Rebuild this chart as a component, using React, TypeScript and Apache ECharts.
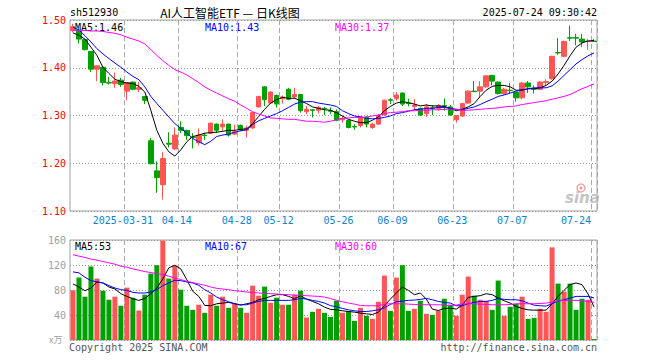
import React, { useEffect, useRef } from 'react';
import * as echarts from 'echarts';

const dates = [
  '2025-03-18','2025-03-19','2025-03-20','2025-03-21','2025-03-24','2025-03-25','2025-03-26','2025-03-27','2025-03-28','2025-03-31',
  '2025-04-01','2025-04-02','2025-04-03','2025-04-07','2025-04-08','2025-04-09','2025-04-10','2025-04-11','2025-04-14','2025-04-15',
  '2025-04-16','2025-04-17','2025-04-18','2025-04-21','2025-04-22','2025-04-23','2025-04-24','2025-04-25','2025-04-28','2025-04-29',
  '2025-04-30','2025-05-06','2025-05-07','2025-05-08','2025-05-09','2025-05-12','2025-05-13','2025-05-14','2025-05-15','2025-05-16',
  '2025-05-19','2025-05-20','2025-05-21','2025-05-22','2025-05-23','2025-05-26','2025-05-27','2025-05-28','2025-05-29','2025-05-30',
  '2025-06-03','2025-06-04','2025-06-05','2025-06-06','2025-06-09','2025-06-10','2025-06-11','2025-06-12','2025-06-13','2025-06-16',
  '2025-06-17','2025-06-18','2025-06-19','2025-06-20','2025-06-23','2025-06-24','2025-06-25','2025-06-26','2025-06-27','2025-06-30',
  '2025-07-01','2025-07-02','2025-07-03','2025-07-04','2025-07-07','2025-07-08','2025-07-09','2025-07-10','2025-07-11','2025-07-14',
  '2025-07-15','2025-07-16','2025-07-17','2025-07-18','2025-07-21','2025-07-22','2025-07-23','2025-07-24',
];

const labelDates = ['2025-03-31','2025-04-14','2025-04-28','2025-05-12','2025-05-26','2025-06-09','2025-06-23','2025-07-07','2025-07-24'];

const opens = [
  1.478, 1.479, 1.459, 1.434, 1.397, 1.401, 1.369, 1.367, 1.374, 1.351,
  1.370, 1.355, 1.340, 1.247, 1.184, 1.155, 1.242, 1.230, 1.275, 1.269,
  1.255, 1.243, 1.259, 1.263, 1.282, 1.276, 1.282, 1.261, 1.279, 1.269,
  1.274, 1.318, 1.360, 1.326, 1.342, 1.335, 1.355, 1.339, 1.344, 1.308,
  1.312, 1.311, 1.315, 1.310, 1.308, 1.291, 1.290, 1.277, 1.279, 1.296,
  1.275, 1.282, 1.301, 1.333, 1.335, 1.347, 1.326, 1.319, 1.315, 1.304,
  1.316, 1.315, 1.321, 1.318, 1.291, 1.299, 1.326, 1.351, 1.351, 1.360,
  1.384, 1.370, 1.346, 1.353, 1.349, 1.337, 1.368, 1.356, 1.355, 1.369,
  1.377, 1.432, 1.424, 1.463, 1.463, 1.460, 1.455, 1.456,
];
const closes = [
  1.486, 1.460, 1.438, 1.397, 1.404, 1.369, 1.368, 1.372, 1.365, 1.369,
  1.355, 1.358, 1.332, 1.199, 1.170, 1.210, 1.240, 1.259, 1.269, 1.258,
  1.254, 1.259, 1.258, 1.284, 1.269, 1.282, 1.259, 1.266, 1.270, 1.274,
  1.306, 1.340, 1.333, 1.349, 1.324, 1.339, 1.334, 1.344, 1.310, 1.313,
  1.311, 1.317, 1.314, 1.309, 1.290, 1.294, 1.275, 1.276, 1.297, 1.282,
  1.282, 1.299, 1.332, 1.332, 1.343, 1.324, 1.325, 1.322, 1.301, 1.318,
  1.315, 1.321, 1.320, 1.301, 1.300, 1.325, 1.351, 1.350, 1.360, 1.383,
  1.372, 1.346, 1.355, 1.352, 1.337, 1.368, 1.360, 1.355, 1.370, 1.371,
  1.424, 1.431, 1.455, 1.462, 1.462, 1.454, 1.456, 1.455,
];
const lows = [
  1.474, 1.451, 1.436, 1.391, 1.372, 1.363, 1.365, 1.358, 1.360, 1.332,
  1.353, 1.349, 1.324, 1.198, 1.138, 1.124, 1.233, 1.228, 1.263, 1.249,
  1.231, 1.237, 1.249, 1.261, 1.263, 1.268, 1.256, 1.259, 1.267, 1.254,
  1.272, 1.317, 1.320, 1.324, 1.317, 1.325, 1.332, 1.335, 1.306, 1.303,
  1.296, 1.304, 1.301, 1.303, 1.288, 1.285, 1.273, 1.270, 1.275, 1.275,
  1.272, 1.280, 1.299, 1.324, 1.331, 1.320, 1.319, 1.311, 1.299, 1.297,
  1.301, 1.310, 1.310, 1.299, 1.285, 1.297, 1.325, 1.349, 1.338, 1.358,
  1.363, 1.344, 1.344, 1.346, 1.329, 1.334, 1.347, 1.346, 1.353, 1.363,
  1.375, 1.427, 1.422, 1.456, 1.447, 1.444, 1.438, 1.454,
];
const highs = [
  1.492, 1.483, 1.460, 1.435, 1.405, 1.401, 1.381, 1.390, 1.379, 1.370,
  1.371, 1.370, 1.341, 1.253, 1.204, 1.223, 1.265, 1.275, 1.288, 1.270,
  1.263, 1.273, 1.263, 1.285, 1.283, 1.292, 1.283, 1.281, 1.281, 1.279,
  1.308, 1.341, 1.361, 1.351, 1.344, 1.342, 1.358, 1.358, 1.345, 1.320,
  1.313, 1.320, 1.318, 1.317, 1.313, 1.299, 1.291, 1.282, 1.299, 1.299,
  1.285, 1.303, 1.333, 1.336, 1.349, 1.348, 1.335, 1.334, 1.317, 1.324,
  1.322, 1.324, 1.336, 1.322, 1.301, 1.326, 1.353, 1.372, 1.372, 1.384,
  1.385, 1.371, 1.358, 1.368, 1.350, 1.370, 1.372, 1.363, 1.372, 1.376,
  1.425, 1.462, 1.457, 1.488, 1.471, 1.471, 1.460, 1.460,
];

const ma5 = [
  1.473, 1.468, 1.460, 1.443, 1.426, 1.401, 1.388, 1.376, 1.371, 1.368,
  1.367, 1.361, 1.349, 1.311, 1.269, 1.242, 1.224, 1.215, 1.228, 1.245,
  1.256, 1.259, 1.263, 1.264, 1.265, 1.267, 1.269, 1.269, 1.271, 1.272,
  1.283, 1.298, 1.313, 1.326, 1.333, 1.338, 1.336, 1.336, 1.331, 1.325,
  1.318, 1.315, 1.312, 1.311, 1.306, 1.299, 1.292, 1.288, 1.285, 1.285,
  1.290, 1.297, 1.310, 1.319, 1.326, 1.329, 1.327, 1.324, 1.320, 1.322,
  1.320, 1.320, 1.319, 1.315, 1.310, 1.313, 1.318, 1.325, 1.340, 1.353,
  1.361, 1.363, 1.363, 1.360, 1.353, 1.353, 1.356, 1.356, 1.358, 1.363,
  1.372, 1.387, 1.405, 1.425, 1.443, 1.452, 1.456, 1.457,
];
const ma10 = [
  1.485, 1.479, 1.467, 1.454, 1.440, 1.429, 1.419, 1.410, 1.401, 1.391,
  1.382, 1.375, 1.360, 1.340, 1.325, 1.311, 1.297, 1.283, 1.273, 1.263,
  1.252, 1.245, 1.239, 1.246, 1.256, 1.259, 1.261, 1.265, 1.268, 1.270,
  1.281, 1.289, 1.294, 1.299, 1.304, 1.310, 1.317, 1.324, 1.328, 1.329,
  1.329, 1.326, 1.324, 1.322, 1.319, 1.310, 1.304, 1.299, 1.297, 1.294,
  1.293, 1.294, 1.296, 1.299, 1.304, 1.306, 1.309, 1.312, 1.313, 1.315,
  1.315, 1.317, 1.317, 1.315, 1.313, 1.312, 1.315, 1.318, 1.323, 1.329,
  1.334, 1.340, 1.343, 1.347, 1.351, 1.354, 1.356, 1.358, 1.358, 1.358,
  1.362, 1.372, 1.384, 1.396, 1.408, 1.417, 1.425, 1.431,
];
const ma30 = [
  1.478, 1.478, 1.478, 1.477, 1.477, 1.476, 1.474, 1.472, 1.469, 1.464,
  1.460, 1.456, 1.450, 1.438, 1.426, 1.415, 1.405, 1.396, 1.391, 1.385,
  1.377, 1.369, 1.360, 1.353, 1.347, 1.341, 1.335, 1.330, 1.322, 1.315,
  1.308, 1.303, 1.299, 1.295, 1.294, 1.293, 1.292, 1.292, 1.290, 1.288,
  1.288, 1.287, 1.286, 1.288, 1.291, 1.294, 1.295, 1.296, 1.296, 1.297,
  1.299, 1.301, 1.304, 1.306, 1.307, 1.308, 1.310, 1.310, 1.311, 1.311,
  1.312, 1.312, 1.313, 1.313, 1.313, 1.311, 1.311, 1.312, 1.313, 1.314,
  1.315, 1.316, 1.318, 1.319, 1.320, 1.323, 1.325, 1.327, 1.329, 1.331,
  1.334, 1.337, 1.340, 1.344, 1.350, 1.356, 1.361, 1.366,
];

const volumes = [
  79.5, 99.9, 69.3, 117.6, 98.3, 78.9, 64.4, 69.3, 54.8, 83.8,
  67.6, 47.2, 72.5, 106.3, 119.7, 159, 98.3, 119.2, 80.5, 54.8,
  48.3, 56.4, 43.5, 72.5, 54.8, 69.3, 51.5, 58, 51.5, 43.5,
  87, 70.9, 85.4, 59.6, 67.6, 56.4, 56.4, 72.5, 78.9, 36,
  45.1, 49.9, 43.5, 37, 62.8, 43.5, 46.2, 30.6, 51.5, 38.7,
  33.8, 61.2, 103.1, 46.7, 99.9, 119.7, 46.7, 49.9, 62.8, 41.9,
  40.3, 46.7, 66, 56.4, 38.7, 72.5, 101.5, 70.9, 64.4, 62.8,
  48.3, 95.1, 38.7, 53.2, 58, 69.3, 33.8, 35.4, 49.9, 45.1,
  148.2, 90.2, 77.3, 90.2, 48.3, 66, 64.4, 1.6,
];
const volMa5 = [
  89.7, 84.8, 78.9, 83.2, 92.9, 91.3, 84.8, 81.6, 74.1, 69.8,
  66.0, 63.4, 66.6, 74.1, 83.2, 97.7, 115.4, 119.7, 113.8, 96.6,
  77.9, 69.8, 55.3, 54.8, 58.0, 59.1, 60.1, 58.0, 55.8, 58.0,
  60.1, 64.4, 66.6, 69.8, 72.5, 72.5, 69.8, 66.0, 70.9, 65.5,
  61.7, 58.0, 52.6, 49.0, 48.3, 46.7, 45.6, 44.6, 43.0, 41.9,
  40.8, 44.6, 54.8, 65.5, 75.2, 84.8, 79.5, 72.5, 75.2, 65.5,
  49.4, 47.2, 50.5, 51.0, 49.4, 55.8, 68.2, 69.8, 70.9, 74.1,
  72.5, 67.1, 62.8, 59.1, 53.7, 50.5, 48.3, 47.8, 47.8, 47.8,
  58.0, 69.8, 79.5, 88.6, 91.3, 88.6, 73.6, 53.0,
];
const volMa10 = [
  109, 107.4, 100.4, 95, 92.9, 91.3, 87, 83.2, 80.5, 79.5,
  76.2, 75.2, 75.2, 76.8, 80.5, 87, 91.3, 95.6, 95, 92.9,
  91.3, 87.5, 80.5, 75.2, 68.7, 64.4, 61.2, 58, 56.4, 56.4,
  59.1, 61.7, 63.4, 63.4, 63.4, 63.4, 63.4, 64.4, 66.6, 65.5,
  63.4, 61.7, 59.1, 55.0, 53.2, 50.5, 48.3, 46.7, 45.6, 45.6,
  46.7, 48.3, 51.5, 56.9, 61.2, 62.3, 63.4, 63.9, 65, 66.6,
  64.4, 61.7, 60.1, 59.1, 54.8, 54.8, 58, 60.1, 61.7, 61.7,
  63.4, 66.6, 65, 64.4, 64.4, 62.8, 59.1, 55.8, 54.8, 54.2,
  58, 62.3, 64.4, 67.1, 69.8, 69.8, 69.8, 67.3,
];
const volMa30 = [
  136.4, 134.2, 132.1, 129.4, 127.8, 125.6, 123.5, 121.3, 118.1, 116.5,
  113.8, 111.7, 109.5, 107.9, 106.3, 104.7, 102, 99.3, 96.6, 94,
  91.8, 89.7, 87.5, 84.8, 82.7, 81.6, 80.5, 78.9, 77.9, 76.8,
  76.2, 75.2, 74.6, 74.1, 73.6, 73, 72.5, 71.9, 71.4, 70.9,
  70.3, 69.8, 68.7, 66.5, 63.4, 61.2, 59.1, 57.4, 55.3, 54.8,
  54.8, 54.8, 57.4, 58, 58, 58, 57.4, 56.9, 56.4, 56.4,
  56.4, 56.4, 55.8, 55.3, 55.8, 58, 58, 58, 57.4, 56.9,
  56.4, 56.4, 56.4, 56.9, 58, 58, 58, 58, 58.5, 59.1,
  60.7, 62.3, 63.4, 63.4, 63.4, 62.8, 61.7, 60.3,
];

const RED = '#ff5555';
const GREEN = '#00a000';
const MONO = 'DejaVu Sans Mono';
const DATE_BLUE = '#0a84d0';

export default function App() {
  const ref = useRef<HTMLDivElement>(null);

  useEffect(() => {
    if (!ref.current) return;
    const chart = echarts.init(ref.current, undefined, { renderer: 'svg' });
    const labelSet = new Set(labelDates.map((d) => dates.indexOf(d)));
    const lastIdx = dates.length - 1;
    const showAt = (i: number) => labelSet.has(i);

    const candleData = dates.map((_, i) => [opens[i], closes[i], lows[i], highs[i]]);
    const volData = volumes.map((v, i) => ({
      value: v,
      itemStyle: { color: closes[i] >= opens[i] ? RED : GREEN },
    }));

    const last = (a: number[]) => a[a.length - 1];

    const splitV = { show: true, interval: showAt, lineStyle: { type: [5, 3], color: '#aaaaaa', width: 1 } };

    const lineS = (data: number[], color: string, xi: number, yi: number) => ({
      type: 'line', data, xAxisIndex: xi, yAxisIndex: yi, symbol: 'none', showSymbol: false,
      lineStyle: { color, width: 1 }, itemStyle: { color }, silent: true, z: 5,
    });

    const txt = (text: string, x: number, y: number, fill: string, extra: any = {}) => ({
      type: 'text', x, y, silent: true,
      style: { text, fill, fontFamily: MONO, fontSize: 10, textVerticalAlign: 'middle', ...extra },
    });

    chart.setOption({
      animation: false,
      backgroundColor: '#ffffff',
      grid: [
        { left: 70, top: 20, width: 527, height: 191, show: true, borderColor: '#a0a0a0', borderWidth: 1, outerBoundsMode: 'none' },
        { left: 70, top: 240, width: 527, height: 100, show: true, borderColor: '#a0a0a0', borderWidth: 1, outerBoundsMode: 'none' },
      ],
      xAxis: [
        {
          type: 'category', gridIndex: 0, data: dates, boundaryGap: true,
          axisLine: { show: false }, axisTick: { show: false },
          axisLabel: {
            interval: showAt, color: DATE_BLUE, fontFamily: MONO, fontSize: 10, margin: 4,
            padding: [0, 8, 0, 0],
            formatter: (v: string, i: number) => {
              if (i === lastIdx) return '{e|' + v.slice(5) + '}';
              return v === labelDates[0] ? v : v.slice(5);
            },
            rich: { e: { padding: [0, 28, 0, 0], color: DATE_BLUE, fontFamily: MONO, fontSize: 10 } },
          },
          splitLine: splitV,
        },
        {
          type: 'category', gridIndex: 1, data: dates, boundaryGap: true,
          axisLine: { show: false }, axisTick: { show: false }, axisLabel: { show: false },
          splitLine: splitV,
        },
      ],
      yAxis: [
        {
          type: 'value', gridIndex: 0, min: 1.1, max: 1.5, interval: 0.1,
          axisLine: { show: false }, axisTick: { show: false },
          axisLabel: { color: '#ff0000', fontFamily: MONO, fontSize: 10, margin: 4, formatter: (v: number) => v.toFixed(2) },
          splitLine: { show: true, lineStyle: { type: [1, 2], color: '#999999', width: 1 } },
        },
        {
          type: 'value', gridIndex: 1, min: 0, max: 160, interval: 40,
          axisLine: { show: false }, axisTick: { show: false },
          axisLabel: { color: '#a0a0a0', fontFamily: MONO, fontSize: 10, margin: 4, formatter: (v: number) => (v === 0 ? '' : String(v)) },
          splitLine: { show: true, lineStyle: { type: [1, 2], color: '#999999', width: 1 } },
        },
      ],
      series: [
        {
          type: 'candlestick', xAxisIndex: 0, yAxisIndex: 0, data: candleData, barWidth: 5, silent: true,
          itemStyle: { color: RED, color0: GREEN, borderColor: RED, borderColor0: GREEN, borderWidth: 1 },
        },
        lineS(ma5, '#000000', 0, 0),
        lineS(ma10, '#0000ff', 0, 0),
        lineS(ma30, '#ff00ff', 0, 0),
        { type: 'bar', xAxisIndex: 1, yAxisIndex: 1, data: volData, barWidth: 5, silent: true },
        lineS(volMa5, '#000000', 1, 1),
        lineS(volMa10, '#0000ff', 1, 1),
        lineS(volMa30, '#ff00ff', 1, 1),
      ],
      graphic: [
        txt('sh512930', 70, 12, '#000000'),
        {
          type: 'text', x: 230, y: 12, silent: true,
          style: { text: 'AI人工智能ETF — 日K线图', fill: '#000000', fontFamily: 'Noto Sans CJK SC', fontSize: 12, lineHeight: 14, textAlign: 'center', textVerticalAlign: 'middle' },
        },
        txt('2025-07-24 09:30:42', 597, 12, '#000000', { textAlign: 'right' }),
        txt('MA5:' + last(ma5).toFixed(2), 75, 27, '#000000'),
        txt('MA10:' + last(ma10).toFixed(2), 205, 27, '#0000ff'),
        txt('MA30:' + last(ma30).toFixed(2), 335, 27, '#ff00ff'),
        txt('MA5:' + Math.round(last(volMa5)), 75, 246, '#000000'),
        txt('MA10:' + Math.round(last(volMa10)), 205, 246, '#0000ff'),
        txt('MA30:' + Math.round(last(volMa30)), 335, 246, '#ff00ff'),
        {
          type: 'text', x: 49, y: 339, silent: true,
          style: { text: 'x万', fill: '#a0a0a0', fontFamily: 'Noto Sans CJK SC', fontSize: 9, textVerticalAlign: 'middle' },
        },
        txt('Copyright 2025 SINA.COM', 69, 347, '#555555'),
        txt('http://finance.sina.com.cn', 597, 347, '#555555', { textAlign: 'right' }),
        {
          type: 'text', x: 565, y: 198, silent: true,
          style: { text: 'sina', fill: '#c4c4c4', fontFamily: 'DejaVu Sans', fontSize: 15, fontWeight: 'bold', fontStyle: 'italic', textVerticalAlign: 'middle' },
        },
        {
          type: 'circle', silent: true, shape: { cx: 581, cy: 188, r: 4 },
          style: { fill: 'none', stroke: '#f2a8a8', lineWidth: 1.5 },
        },
        {
          type: 'circle', silent: true, shape: { cx: 581, cy: 188, r: 1.5 },
          style: { fill: '#ee9090' },
        },
      ],
    });
    return () => chart.dispose();
  }, []);

  return (
    <div
      ref={ref}
      style={{ position: 'absolute', left: 0, top: 0, width: 660, height: 360, background: '#ffffff' }}
    />
  );
}
